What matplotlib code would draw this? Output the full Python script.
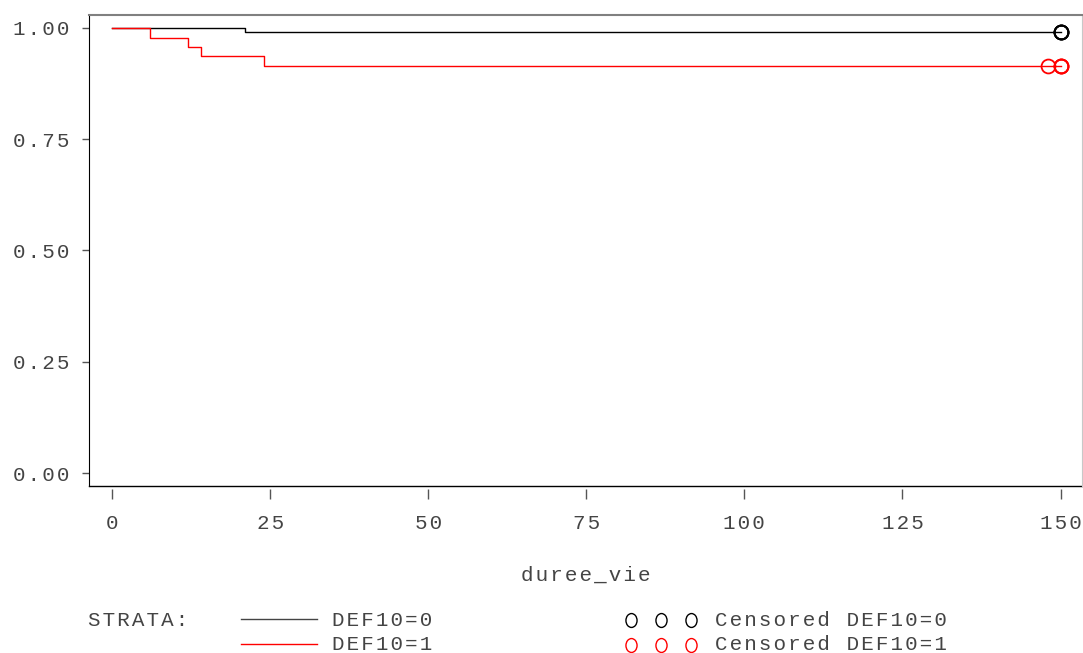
import numpy as np
import matplotlib.pyplot as plt
from matplotlib.path import Path
from matplotlib.lines import Line2D

# Kaplan-Meier step estimates for each stratum
t_def0 = [0, 21, 150]
s_def0 = [1.000, 0.991, 0.991]
t_def1 = [0, 6, 12, 14, 24, 150]
s_def1 = [1.000, 0.978, 0.957, 0.936, 0.915, 0.915]

# censored observations
cens_t_def0 = [150, 150, 150, 150]
cens_s_def0 = [0.991, 0.991, 0.991, 0.991]
cens_t_def1 = [148, 150, 150, 150]
cens_s_def1 = [0.915, 0.915, 0.915, 0.915]

xticks = [0, 25, 50, 75, 100, 125, 150]
yticks = [0.00, 0.25, 0.50, 0.75, 1.00]
strata = ['DEF10=0', 'DEF10=1']
colors = ['black', 'red']

FONT = ['Liberation Mono', 'DejaVu Sans']
TXT = '#444444'
FS = 15


def spaced(s):
    # widen the letter pitch with hair spaces
    return '\u200a'.join(s)


W, H = 1083, 653
fig = plt.figure(figsize=(W / 100, H / 100), dpi=100)
ax = fig.add_axes([89 / W, 1 - 486 / H, (1082 - 89) / W, (486 - 15) / H])

# axis frame: ticks on x sit slightly below the frame line
ax.spines['bottom'].set_position(('outward', 2))
ax.spines['bottom'].set_visible(False)
ax.plot([0, 1], [0, 0], transform=ax.transAxes, color='black', lw=1, clip_on=False)
ax.spines['left'].set_color('black')
ax.spines['top'].set_color('#808080')
ax.spines['top'].set_linewidth(1.5)
ax.spines['right'].set_color('#c8c8c8')

ax.step(t_def0, s_def0, where='post', color='black', lw=1)
ax.step(t_def1, s_def1, where='post', color='red', lw=1)
for t, s in zip(cens_t_def0, cens_s_def0):
    ax.plot(t, s, 'o', mfc='none', mec='black', ms=10, mew=1.3, clip_on=False)
for t, s in zip(cens_t_def1, cens_s_def1):
    ax.plot(t, s, 'o', mfc='none', mec='red', ms=10, mew=1.3, clip_on=False)

ax.set_xlim(-3.64, 153.4)
ax.set_ylim(-0.0292, 1.0292)

ax.set_xticks(xticks)
ax.set_xticklabels([spaced(str(v)) for v in xticks], family=FONT, fontsize=FS, color=TXT)
ax.set_yticks(yticks)
ax.set_yticklabels([spaced(f'{v:.2f}') for v in yticks], family=FONT, fontsize=FS, color=TXT)
ax.tick_params(axis='x', length=7, width=1, color='#555', pad=11)
ax.tick_params(axis='y', length=5, width=1, color='#555', pad=9)

ax.set_xlabel(spaced('duree_vie'), family=FONT, fontsize=FS, color=TXT, va='center')
ax.xaxis.set_label_coords(0.5, -(575 - 486) / (486 - 15))


def fx(px):
    return px / W


def fy(py):
    return 1 - py / H


# legend block below the plot
fig.text(fx(88), fy(620), spaced('STRATA:'), family=FONT, fontsize=FS, color=TXT, va='center')

ell = Path.unit_circle()
ell = Path(ell.vertices * [0.8, 1.0], ell.codes)
rows = [620, 645]
for name, col, py in zip(strata, colors, rows):
    lc = '#444' if col == 'black' else col
    fig.add_artist(Line2D([fx(241), fx(317)], [fy(py - 1), fy(py - 1)], color=lc, lw=1))
    fig.text(fx(332), fy(py), spaced(name), family=FONT, fontsize=FS, color=TXT, va='center')
    fig.add_artist(Line2D([fx(631), fx(661), fx(691)], [fy(py)] * 3, ls='none', marker=ell,
                          ms=10, mfc='none', mec=col, mew=1.0))
    fig.text(fx(715), fy(py), spaced('Censored ' + name), family=FONT, fontsize=FS, color=TXT,
             va='center')

fig.savefig('out.png', dpi=100)
